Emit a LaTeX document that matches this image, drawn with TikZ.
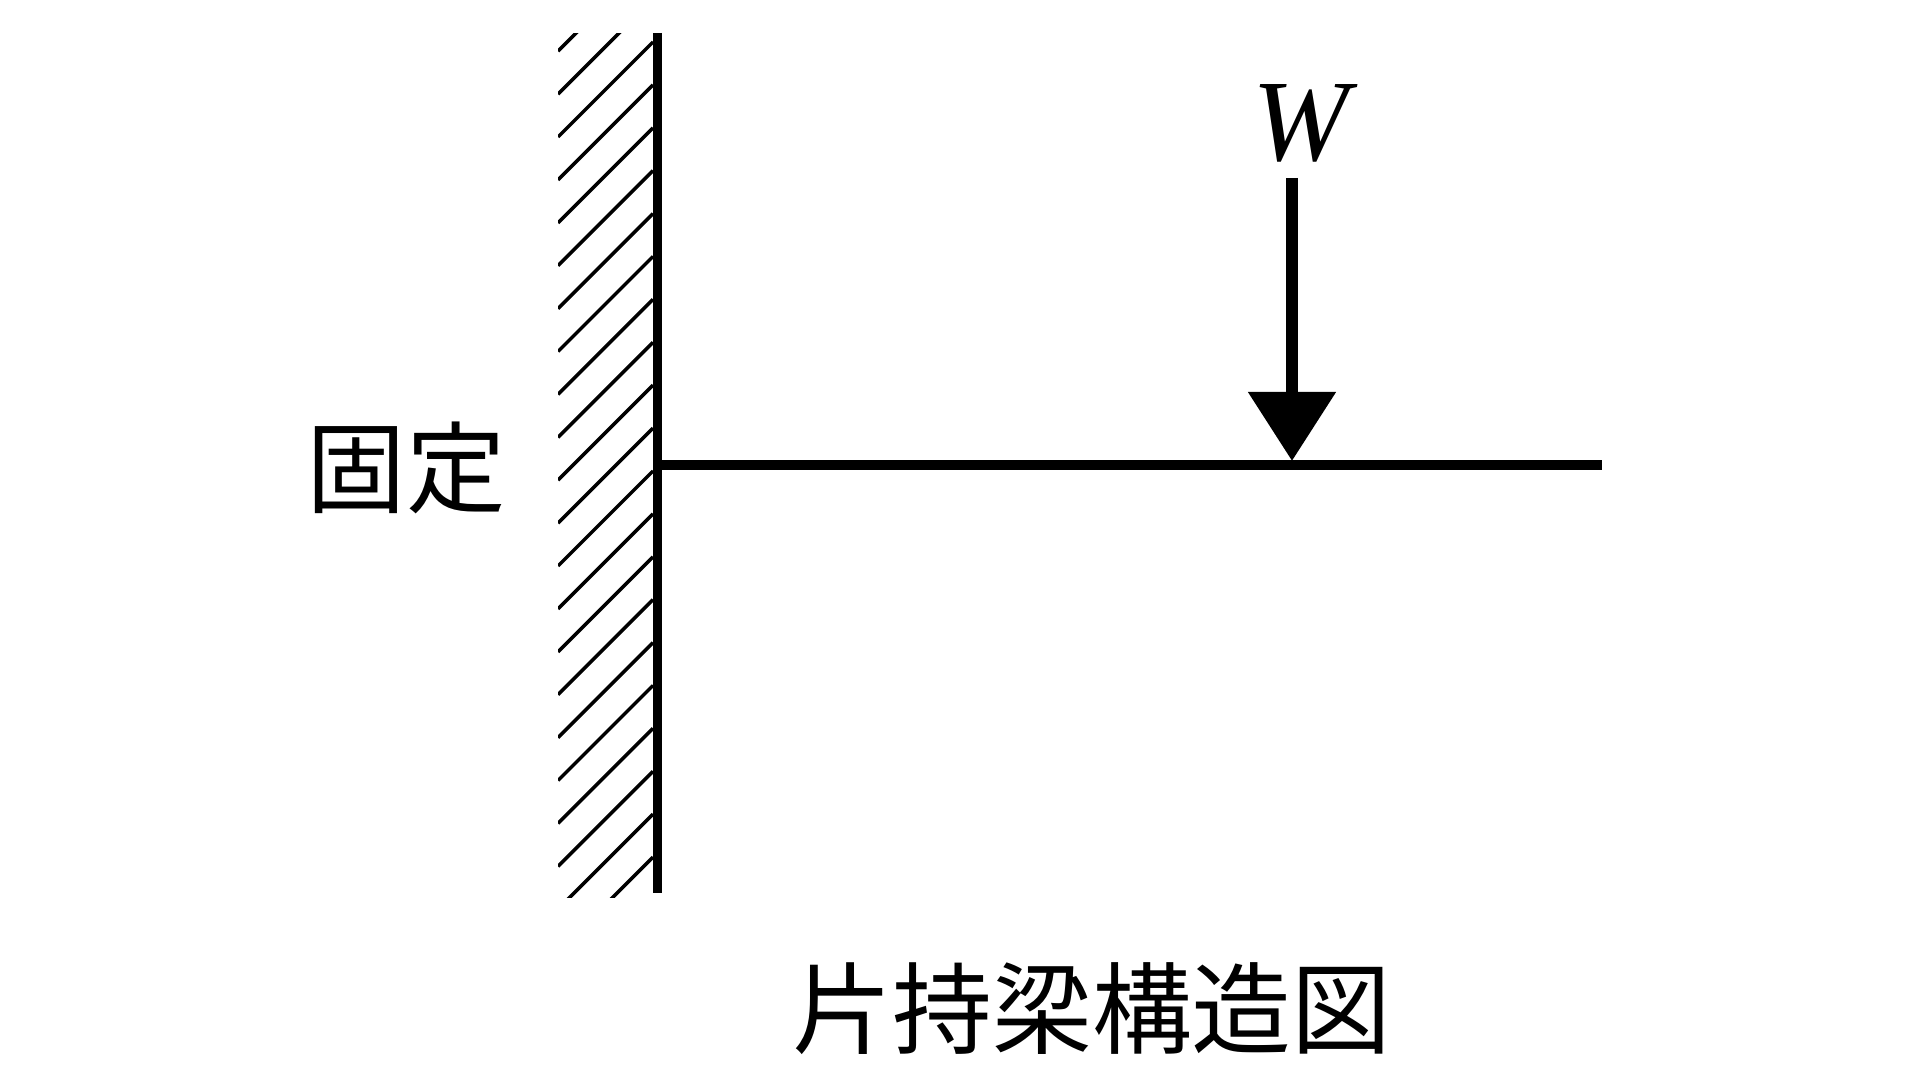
\documentclass[tikz,border=0pt]{standalone}
\usepackage{fontspec}
\setmainfont{Liberation Serif}
\newfontfamily\cjk{Noto Sans CJK JP}
\usetikzlibrary{arrows.meta}

\begin{document}
\begin{tikzpicture}[x=0.01cm,y=-0.01cm,>={Triangle[length=0.69cm,width=0.85cm]},
  semithick]
  \tikzstyle{wallline}=[line width=0.09cm]
  \tikzstyle{hatchline}=[line width=0.035cm]
  \tikzstyle{beamline}=[line width=0.1cm]
  \tikzstyle{loadline}=[line width=0.12cm,->]
  \tikzstyle{every node}=[inner sep=0pt]

  \useasboundingbox (0,0) rectangle (1920,1080);

  \coordinate (walltop)  at (657,33);
  \coordinate (wallbot)  at (657,893);
  \coordinate (beamfix)  at (657,465);
  \coordinate (beamend)  at (1602,465);
  \coordinate (loadtop)  at (1292,178);
  \coordinate (loadtip)  at (1292,461);

  \node (fixlabel) at (406,468) {\cjk\fontsize{28.3pt}{28.3pt}\selectfont 固定};
  \node (loadlabel) at (1305,123) {\fontsize{33pt}{33pt}\selectfont\textit{W}};
  \node (caption) at (1092,1009) {\cjk\fontsize{28.4pt}{28.4pt}\selectfont 片持梁構造図};

  \begin{scope}
    \clip (558,34) rectangle (653,898);
    \foreach \k in {-2,...,19}
      \draw[hatchline] (653,{42+42.9*\k}) -- (558,{137+42.9*\k});
  \end{scope}

  \draw[wallline] (walltop) -- (wallbot);
  \draw[beamline] (beamfix) -- (beamend);
  \draw[loadline] (loadtop) -- (loadtip);
\end{tikzpicture}
\end{document}
